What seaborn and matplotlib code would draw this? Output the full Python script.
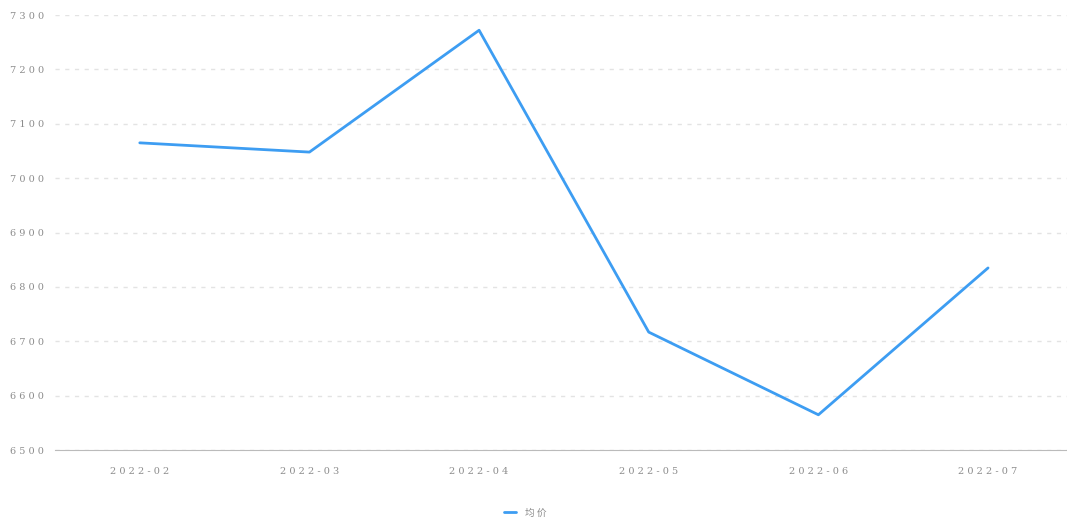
import pandas as pd
import matplotlib.pyplot as plt
import seaborn as sns
from matplotlib.ticker import FuncFormatter, MultipleLocator

# -----------------------------
# DATA
# -----------------------------
months = ["2022-02", "2022-03", "2022-04", "2022-05", "2022-06", "2022-07"]
price = [7065, 7048, 7272, 6717, 6565, 6835]
series_name = "均 价"

df = pd.DataFrame({"month": months, "price": price, "series": series_name})

# -----------------------------
# STYLE
# -----------------------------
sns.set_style("white")
plt.rcParams['font.family'] = ['Noto Sans CJK SC', 'DejaVu Sans']

line_color = "#3d9df2"
text_color = "#8c8c8c"

fig = plt.figure(figsize=(10.67, 5.18), dpi=100)
ax = fig.add_axes([0.0515, 0.131, 0.954, 0.84])

sns.lineplot(data=df, x="month", y="price", hue="series", palette=[line_color],
             linewidth=2, sort=False, ax=ax)

ax.set_ylim(6500, 7300)
ax.set_xlim(-0.5, len(months) - 0.5)
ax.yaxis.set_major_locator(MultipleLocator(100))

spaced = lambda s: " ".join(s)
ax.yaxis.set_major_formatter(FuncFormatter(lambda v, p: spaced(f"{v:.0f}")))
ax.set_xticks(range(len(months)))
ax.set_xticklabels([spaced(m) for m in months])

ax.tick_params(axis="y", length=0, labelsize=7, labelcolor=text_color, pad=8)
ax.tick_params(axis="x", length=4, width=0.8, color="#bbbbbb", labelsize=7,
               labelcolor=text_color, pad=12, direction="in")
for lbl in ax.get_xticklabels() + ax.get_yticklabels():
    lbl.set_family("DejaVu Serif")

ax.grid(axis="y", linestyle=(0, (3, 4)), color="#e3e3e3", linewidth=1)
ax.set_axisbelow(True)
for side in ["top", "right", "left"]:
    ax.spines[side].set_visible(False)
ax.spines["bottom"].set_color("#bbbbbb")
ax.set_xlabel("")
ax.set_ylabel("")

# -----------------------------
# LEGEND
# -----------------------------
ax.legend(loc="upper center", bbox_to_anchor=(0.462, -0.112), frameon=False,
          fontsize=7, labelcolor=text_color, handlelength=1.2, handletextpad=0.9)

plt.savefig("out.png", dpi=100)
